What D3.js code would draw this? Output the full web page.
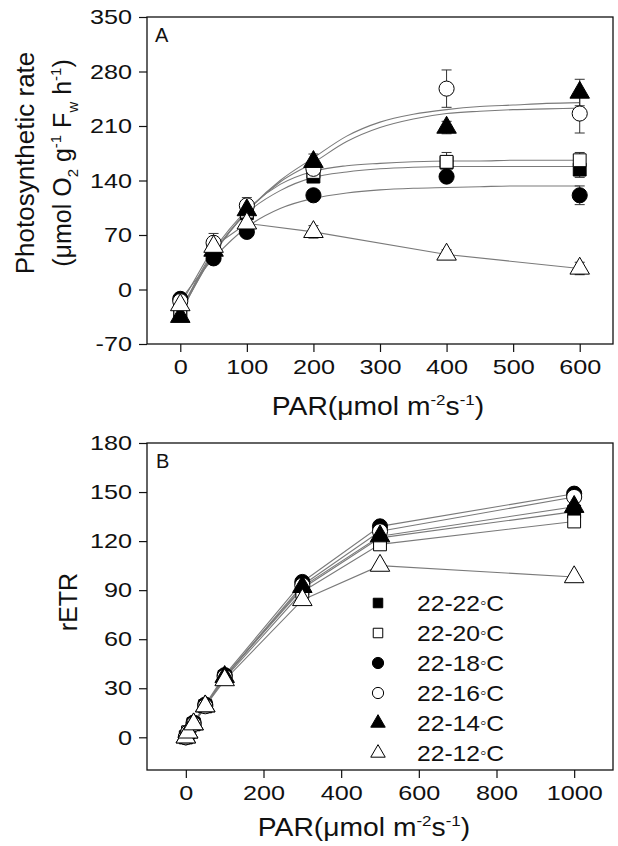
<!DOCTYPE html>
<html>
<head>
<meta charset="utf-8">
<script src="https://cdn.jsdelivr.net/npm/d3@7"></script>
<style>
  body { margin: 0; background: #fff; }
  text { font-family: "Liberation Sans", Arial, sans-serif; fill: #111; }
</style>
</head>
<body>
<svg id="chart" width="618" height="846"></svg>
<script>
// series names and symbol types (legend order)
var seriesNames = ["22-22", "22-20", "22-18", "22-16", "22-14", "22-12"];
var seriesShape = ["square", "square", "circle", "circle", "triangle", "triangle"];
var seriesFilled = [true, false, true, false, true, false];

// panel A: photosynthetic rate
var parA = [0, 50, 100, 200, 400, 600];
var rateA = [
  [-33, 45, 98, 145, 163, 154],
  [-28, 50, 100, 151, 164, 166],
  [-12, 40, 74, 121, 145, 121],
  [-15, 60, 108, 155, 258, 226],
  [-35, 50, 102, 164, 208, 253],
  [-20, 55, 85, 74, 45, 27]
];
var errA = [
  [5, 5, 6, 6, 8, 10],
  [5, 6, 6, 8, 12, 10],
  [4, 5, 5, 5, 6, 12],
  [5, 12, 10, 10, 24, 25],
  [6, 6, 8, 10, 8, 17],
  [5, 6, 6, 8, 6, 8]
];
// fitted curves (22-12 has none, joined point to point)
var fitPar = [0, 50, 100, 150, 200, 250, 300, 350, 400, 450, 500, 550, 600];
var fitA = [
  [-31, 46, 98, 127, 144, 151, 155, 157, 158, 158, 158, 158, 158],
  [-28, 50, 102, 135, 152, 159, 162, 164, 165, 165, 166, 166, 166],
  [-14, 40, 80, 104, 117, 124, 128, 130, 131, 132, 133, 133, 133],
  [-28, 47, 100, 138, 163, 190, 208, 219, 226, 229, 231, 232, 233],
  [-30, 45, 100, 140, 169, 197, 215, 225, 231, 235, 237, 239, 240],
  null
];
var yTicksA = [-70, 0, 70, 140, 210, 280, 350];
var xTicksA = [0, 100, 200, 300, 400, 500, 600];

// panel B: rETR
var parB = [0, 6, 20, 50, 100, 300, 500, 1000];
var etrB = [
  [0, 3, 8, 19, 37, 91, 122, 138],
  [0, 3, 8, 19, 36, 89, 118, 132],
  [0, 3, 9, 20, 38, 95, 129, 149],
  [0, 3, 8, 19, 37, 93, 126, 147],
  [0, 3, 8, 19, 37, 92, 123, 141],
  [0, 3, 8, 19, 35, 84, 105, 98]
];
var yTicksB = [0, 30, 60, 90, 120, 150, 180];
var xTicksB = [0, 200, 400, 600, 800, 1000];

var svg = d3.select("#chart");

var symbolTypes = { square: d3.symbolSquare, circle: d3.symbolCircle, triangle: d3.symbolTriangle };
var symbolSizes = { square: 165, circle: 180, triangle: 165 };

// the original lettering is a bit wide, stretch it sideways
function widen(sel, k) {
  sel.each(function() {
    var w = this.getComputedTextLength();
    d3.select(this).attr("textLength", w * k).attr("lengthAdjust", "spacingAndGlyphs");
  });
}

function drawMarker(g, i, x, y, scale) {
  var sh = seriesShape[i];
  g.append("path")
    .attr("d", d3.symbol().type(symbolTypes[sh]).size(symbolSizes[sh] * scale)())
    .attr("transform", "translate(" + x + "," + y + ")")
    .attr("fill", seriesFilled[i] ? "#000" : "#fff")
    .attr("stroke", "#000")
    .attr("stroke-width", 1);
}

function drawFrame(x, y, xTicks, yTicks) {
  var r = x.range(), rr = y.range();
  var fmt = function(d) { return String(d); };
  var g = svg.append("g");
  g.append("g")
    .attr("transform", "translate(0," + rr[0] + ")")
    .call(d3.axisBottom(x).tickValues(xTicks).tickFormat(fmt).tickSize(8).tickPadding(7).tickSizeOuter(0));
  g.append("g")
    .attr("transform", "translate(" + r[0] + ",0)")
    .call(d3.axisLeft(y).tickValues(yTicks).tickFormat(fmt).tickSize(8).tickPadding(7).tickSizeOuter(0));
  g.selectAll(".domain").remove();
  g.selectAll(".tick line").attr("stroke", "#111").attr("stroke-width", 1.2);
  g.selectAll(".tick text").style("font-size", "21px").style("font-family", "Liberation Sans, Arial, sans-serif").attr("fill", "#111");
  widen(g.selectAll(".tick text"), 1.2);
  g.append("rect")
    .attr("x", r[0]).attr("y", rr[1])
    .attr("width", r[1] - r[0]).attr("height", rr[0] - rr[1])
    .attr("fill", "none").attr("stroke", "#111").attr("stroke-width", 1.3);
  return g;
}

function parTitle(x, y) {
  var t = svg.append("text").attr("x", x).attr("y", y).attr("text-anchor", "middle").style("font-size", "25px");
  t.append("tspan").text("PAR(\u03bcmol m");
  t.append("tspan").attr("dy", -10).style("font-size", "15px").text("-2");
  t.append("tspan").attr("dy", 10).text("s");
  t.append("tspan").attr("dy", -10).style("font-size", "15px").text("-1");
  t.append("tspan").attr("dy", 10).text(")");
  widen(t, 1.13);
}

// ---------- panel A ----------
var xA = d3.scaleLinear().domain([-50, 650]).range([147, 613]);
var yA = d3.scaleLinear().domain([-70, 350]).range([344, 17]);
drawFrame(xA, yA, xTicksA, yTicksA);

var line = d3.line().curve(d3.curveMonotoneX);
var gA = svg.append("g");
for (var i = 0; i < seriesNames.length; i++) {
  var pts;
  if (fitA[i]) {
    pts = fitPar.map(function(p, k) { return [xA(p), yA(fitA[i][k])]; });
    gA.append("path").attr("d", line(pts)).attr("fill", "none").attr("stroke", "#7a7a7a").attr("stroke-width", 1.1);
  } else {
    pts = parA.map(function(p, k) { return [xA(p), yA(rateA[i][k])]; });
    gA.append("path").attr("d", d3.line()(pts)).attr("fill", "none").attr("stroke", "#7a7a7a").attr("stroke-width", 1.1);
  }
}
// error bars
for (var i = 0; i < seriesNames.length; i++) {
  parA.forEach(function(p, k) {
    var cx = xA(p), v = rateA[i][k], e = errA[i][k];
    gA.append("line").attr("x1", cx).attr("x2", cx).attr("y1", yA(v - e)).attr("y2", yA(v + e))
      .attr("stroke", "#333").attr("stroke-width", 1);
    [v - e, v + e].forEach(function(w) {
      gA.append("line").attr("x1", cx - 5).attr("x2", cx + 5).attr("y1", yA(w)).attr("y2", yA(w))
        .attr("stroke", "#333").attr("stroke-width", 1);
    });
  });
}
for (var i = 0; i < seriesNames.length; i++) {
  parA.forEach(function(p, k) { drawMarker(gA, i, xA(p), yA(rateA[i][k]), 1); });
}
svg.append("text").attr("x", 155).attr("y", 42).style("font-size", "20px").text("A");

parTitle(378, 415);

svg.append("text").attr("transform", "translate(34,163) rotate(-90)")
  .attr("text-anchor", "middle").style("font-size", "26px").text("Photosynthetic rate");
var yt = svg.append("text").attr("transform", "translate(71,163) rotate(-90)")
  .attr("text-anchor", "middle").style("font-size", "25px");
yt.append("tspan").text("(\u03bcmol O");
yt.append("tspan").attr("dy", 7).style("font-size", "15px").text("2");
yt.append("tspan").attr("dy", -7).text(" g");
yt.append("tspan").attr("dy", -10).style("font-size", "15px").text("-1");
yt.append("tspan").attr("dy", 10).text(" F");
yt.append("tspan").attr("dy", 7).style("font-size", "15px").text("w");
yt.append("tspan").attr("dy", -7).text(" h");
yt.append("tspan").attr("dy", -10).style("font-size", "15px").text("-1");
yt.append("tspan").attr("dy", 10).text(")");

// ---------- panel B ----------
var xB = d3.scaleLinear().domain([-100, 1100]).range([147, 613]);
var yB = d3.scaleLinear().domain([-20, 180]).range([770, 443]);
drawFrame(xB, yB, xTicksB, yTicksB);

var gB = svg.append("g");
for (var i = 0; i < seriesNames.length; i++) {
  var ptsB = parB.map(function(p, k) { return [xB(p), yB(etrB[i][k])]; });
  gB.append("path").attr("d", d3.line()(ptsB)).attr("fill", "none").attr("stroke", "#7a7a7a").attr("stroke-width", 1.1);
}
for (var i = 0; i < seriesNames.length; i++) {
  parB.forEach(function(p, k) { drawMarker(gB, i, xB(p), yB(etrB[i][k]), 1); });
}
svg.append("text").attr("x", 156).attr("y", 468).style("font-size", "20px").text("B");

// legend
var leg = svg.append("g");
seriesNames.forEach(function(name, i) {
  var ly = 603 + i * 30;
  drawMarker(leg, i, 378, ly, 0.55);
  var t = leg.append("text").attr("x", 417).attr("y", ly + 8).style("font-size", "22px");
  t.append("tspan").text(name);
  t.append("tspan").style("font-size", "16px").attr("dy", -3).text("\u25e6");
  t.append("tspan").attr("dy", 3).text("C");
  widen(t, 1.12);
});

parTitle(364, 836);

svg.append("text").attr("transform", "translate(77,602) rotate(-90)")
  .attr("text-anchor", "middle").style("font-size", "25px").text("rETR");
</script>
</body>
</html>
